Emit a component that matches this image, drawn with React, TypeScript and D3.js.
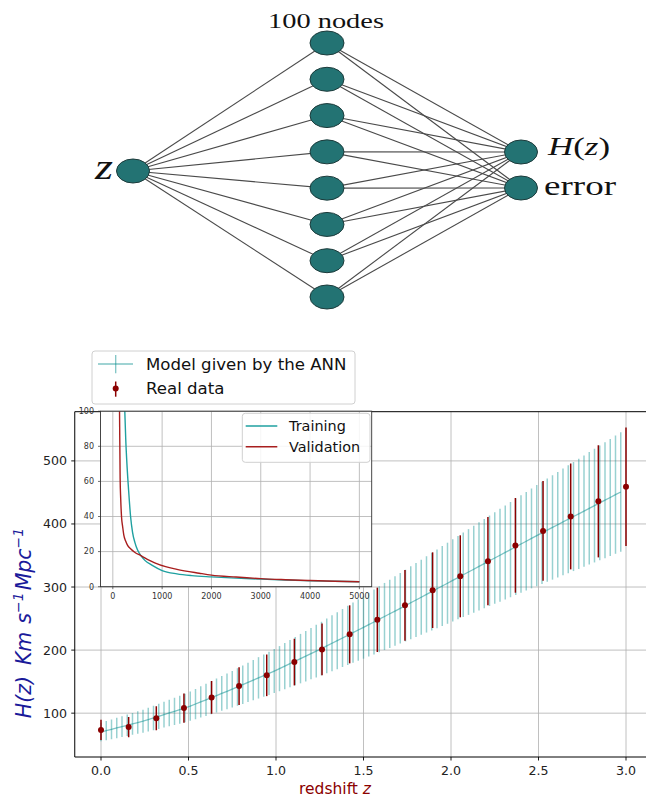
import React from "react";
import * as d3 from "d3";

// ---------------- DATA ----------------
const inputLayer = ["z"];
const hiddenLayer = ["h1", "h2", "h3", "h4", "h5", "h6", "h7", "h8"];
const outputLayer = ["H(z)", "error"];
const hiddenTitle = "100 nodes";

const dataZ = [0, 0.158, 0.316, 0.474, 0.632, 0.789, 0.947, 1.105, 1.263, 1.421, 1.579, 1.737, 1.895, 2.053, 2.211, 2.368, 2.526, 2.684, 2.842, 3.0];
const dataH = [73.5, 78, 92, 108, 125, 143, 160, 181, 201, 225, 248, 271, 295, 317, 341, 366, 389, 412, 436, 459];
const dataErr = [16, 16, 19, 23, 26, 30, 33, 37, 41, 46, 51, 56, 60, 65, 70, 75, 79, 84, 89, 94];

const modelZ = [0, 0.03, 0.06, 0.09, 0.12, 0.15, 0.18, 0.21, 0.24, 0.27, 0.3, 0.33, 0.36, 0.39, 0.42, 0.45, 0.48, 0.51, 0.54, 0.57, 0.6, 0.63, 0.66, 0.69, 0.72, 0.75, 0.78, 0.81, 0.84, 0.87, 0.9, 0.93, 0.96, 0.99, 1.02, 1.05, 1.08, 1.11, 1.14, 1.17, 1.2, 1.23, 1.26, 1.29, 1.32, 1.35, 1.38, 1.41, 1.44, 1.47, 1.5, 1.53, 1.56, 1.59, 1.62, 1.65, 1.68, 1.71, 1.74, 1.77, 1.8, 1.83, 1.86, 1.89, 1.92, 1.95, 1.98, 2.01, 2.04, 2.07, 2.1, 2.13, 2.16, 2.19, 2.22, 2.25, 2.28, 2.31, 2.34, 2.37, 2.4, 2.43, 2.46, 2.49, 2.52, 2.55, 2.58, 2.61, 2.64, 2.67, 2.7, 2.73, 2.76, 2.79, 2.82, 2.85, 2.88, 2.91, 2.94, 2.97];
const modelH = [70.0, 72.2, 74.3, 76.5, 78.6, 80.8, 83.0, 85.1, 87.3, 89.8, 92.4, 95.0, 97.7, 100.3, 103.0, 105.6, 108.2, 111.1, 114.5, 117.8, 121.2, 124.6, 127.9, 131.3, 134.6, 138.0, 141.6, 145.2, 148.8, 152.4, 156.0, 159.6, 163.2, 166.8, 170.6, 174.6, 178.6, 182.5, 186.5, 190.4, 194.4, 198.4, 202.4, 206.6, 210.8, 215.0, 219.2, 223.4, 227.6, 231.8, 236.0, 240.3, 244.6, 249.0, 253.3, 257.6, 261.9, 266.2, 270.6, 275.0, 279.4, 283.8, 288.3, 292.7, 297.2, 301.6, 306.0, 310.5, 314.9, 319.4, 323.8, 328.2, 332.7, 337.1, 341.6, 346.0, 350.4, 354.9, 359.3, 363.8, 368.2, 372.6, 377.1, 381.5, 385.9, 390.2, 394.5, 398.8, 403.2, 407.5, 411.8, 416.1, 420.4, 424.8, 429.1, 433.4, 437.7, 442.0, 446.4, 450.7];
const modelErr = [14.7, 15.2, 15.6, 16.1, 16.5, 17.0, 17.4, 17.9, 18.3, 18.9, 19.4, 20.0, 20.5, 21.1, 21.6, 22.2, 22.7, 23.3, 24.0, 24.7, 25.5, 26.2, 26.9, 27.6, 28.3, 29.0, 29.7, 30.5, 31.2, 32.0, 32.8, 33.5, 34.3, 35.0, 35.8, 36.7, 37.5, 38.3, 39.2, 40.0, 40.8, 41.7, 42.5, 43.4, 44.3, 45.2, 46.0, 46.9, 47.8, 48.7, 49.6, 50.5, 51.4, 52.3, 53.2, 54.1, 55.0, 55.9, 56.8, 57.8, 58.7, 59.6, 60.5, 61.5, 62.4, 63.3, 64.3, 65.2, 66.1, 67.1, 68.0, 68.9, 69.9, 70.8, 71.7, 72.7, 73.6, 74.5, 75.5, 76.4, 77.3, 78.2, 79.2, 80.1, 81.0, 81.9, 82.8, 83.7, 84.7, 85.6, 86.5, 87.4, 88.3, 89.2, 90.1, 91.0, 91.9, 92.8, 93.7, 94.6];

const mainXTicks = [0, 0.5, 1.0, 1.5, 2.0, 2.5, 3.0];
const mainYTicks = [100, 200, 300, 400, 500];

const trainEpoch = [215, 243, 262, 290, 320, 360, 400, 450, 500, 562, 650, 800, 1000, 1300, 1600, 2000, 2500, 3000, 3500, 4000, 4500, 5000];
const trainLoss = [125, 100, 84, 68, 55, 40, 31, 25, 21, 18, 15, 12.2, 9.2, 7.3, 6.3, 5.6, 4.9, 4.3, 3.8, 3.4, 3.1, 2.8];
const valEpoch = [120, 136, 148, 160, 176, 200, 223, 260, 300, 360, 450, 562, 700, 850, 1070, 1300, 1750, 2000, 2500, 3000, 3500, 4000, 4500, 5000];
const valLoss = [130, 100, 62, 50, 40, 34, 29.4, 26, 23.5, 21.6, 19.5, 17.8, 15.6, 13.6, 11.4, 9.9, 7.7, 6.6, 5.5, 4.6, 4.0, 3.5, 3.1, 2.8];

const insetXTicks = [0, 1000, 2000, 3000, 4000, 5000];
const insetYTicks = [0, 20, 40, 60, 80, 100];

// ---------------- STYLE ----------------
const NODE_FILL = "#237373";
const NODE_STROKE = "#1d3b3b";
const EDGE = "#4a4a4a";
const MODEL_COLOR = "#008b8b";
const DATA_COLOR = "#8b0000";
const GRID = "#b0b0b0";
const TRAIN_COLOR = "#1fa0a0";
const VAL_COLOR = "#a81e1e";
const SANS = "DejaVu Sans, sans-serif";
const SERIF = "Liberation Serif, DejaVu Serif, serif";

export default function App() {
  // network layout
  const hy = d3.scalePoint<string>().domain(hiddenLayer).range([43, 297]);
  const oy = d3.scalePoint<string>().domain(outputLayer).range([152, 188]);
  const inX = 133, inY = 171, hX = 327, oX = 521;

  // main plot
  const x = d3.scaleLinear().domain([-0.15, 3.15]).range([74.75, 652.25]);
  const y = d3.scaleLinear().domain([30.5, 578]).range([757, 411.7]);
  const plotL = 74.75, plotR = 652.25, plotT = 411.7, plotB = 757;

  const modelLine = d3.line<number>().x((d, i) => x(modelZ[i])).y((d) => y(d));

  // inset
  const ix = d3.scaleLinear().domain([-250, 5250]).range([100.5, 371.7]);
  const iy = d3.scaleLinear().domain([0, 100]).range([586.7, 411.2]);
  const iL = 100.5, iR = 371.7, iT = 411.2, iB = 586.7;
  const curve = (ep: number[], ls: number[]) =>
    d3.line<number>().x((d, i) => ix(ep[i])).y((d) => iy(d)).curve(d3.curveMonotoneX)(ls) || "";

  return (
    <svg width={646} height={798} style={{ position: "absolute", left: 0, top: 0, background: "#fff" }}>
      <defs>
        <clipPath id="insetClip">
          <rect x={iL} y={iT} width={iR - iL} height={iB - iT} />
        </clipPath>
        <clipPath id="mainClip">
          <rect x={plotL} y={plotT} width={plotR - plotL} height={plotB - plotT} />
        </clipPath>
      </defs>

      {/* ---------- network diagram ---------- */}
      <g>
        {hiddenLayer.map((h) => (
          <line key={"in" + h} x1={inX} y1={inY} x2={hX} y2={hy(h)!} stroke={EDGE} strokeWidth={1.1} />
        ))}
        {hiddenLayer.map((h) =>
          outputLayer.map((o) => (
            <line key={h + o} x1={hX} y1={hy(h)!} x2={oX} y2={oy(o)!} stroke={EDGE} strokeWidth={1.1} />
          ))
        )}
        {inputLayer.map((n) => (
          <ellipse key={n} cx={inX} cy={inY} rx={16.5} ry={12} fill={NODE_FILL} stroke={NODE_STROKE} strokeWidth={1} />
        ))}
        {hiddenLayer.map((h) => (
          <ellipse key={h} cx={hX} cy={hy(h)!} rx={17} ry={12} fill={NODE_FILL} stroke={NODE_STROKE} strokeWidth={1} />
        ))}
        {outputLayer.map((o) => (
          <ellipse key={o} cx={oX} cy={oy(o)!} rx={16.5} ry={12} fill={NODE_FILL} stroke={NODE_STROKE} strokeWidth={1} />
        ))}
        <text x={268} y={28} fontFamily={SERIF} fontSize={21} textLength={116} lengthAdjust="spacingAndGlyphs" fill="#111">
          {hiddenTitle}
        </text>
        <text x={95} y={179} fontFamily={SERIF} fontStyle="italic" fontSize={36} textLength={18} lengthAdjust="spacingAndGlyphs" fill="#111">
          {inputLayer[0]}
        </text>
        <text x={548} y={155} fontFamily={SERIF} fontSize={26} textLength={62} lengthAdjust="spacingAndGlyphs" fill="#111">
          <tspan fontStyle="italic">H</tspan>
          <tspan>(</tspan>
          <tspan fontStyle="italic">z</tspan>
          <tspan>)</tspan>
        </text>
        <text x={544} y={195} fontFamily={SERIF} fontSize={28} textLength={72} lengthAdjust="spacingAndGlyphs" fill="#111">
          {outputLayer[1]}
        </text>
      </g>

      {/* ---------- main plot ---------- */}
      <g>
        {mainXTicks.map((t) => (
          <line key={"gx" + t} x1={x(t)} x2={x(t)} y1={plotT} y2={plotB} stroke={GRID} strokeWidth={0.8} />
        ))}
        {mainYTicks.map((t) => (
          <line key={"gy" + t} x1={plotL} x2={plotR} y1={y(t)} y2={y(t)} stroke={GRID} strokeWidth={0.8} />
        ))}
        <g clipPath="url(#mainClip)">
          {modelH.map((h, i) => (
            <line key={"me" + i} x1={x(modelZ[i])} x2={x(modelZ[i])} y1={y(h - modelErr[i])} y2={y(h + modelErr[i])}
              stroke={MODEL_COLOR} strokeOpacity={0.4} strokeWidth={1.5} />
          ))}
          <path d={modelLine(modelH) || ""} fill="none" stroke={MODEL_COLOR} strokeOpacity={0.5} strokeWidth={1.3} />
          {dataH.map((h, i) => (
            <line key={"de" + i} x1={x(dataZ[i])} x2={x(dataZ[i])} y1={y(h - dataErr[i])} y2={y(h + dataErr[i])}
              stroke={DATA_COLOR} strokeWidth={1.5} />
          ))}
          {dataH.map((h, i) => (
            <circle key={"dp" + i} cx={x(dataZ[i])} cy={y(h)} r={3} fill={DATA_COLOR} />
          ))}
        </g>
        {/* spines */}
        <line x1={plotL} x2={plotL} y1={plotT} y2={plotB} stroke="#000" strokeWidth={1} />
        <line x1={plotL} x2={plotR} y1={plotB} y2={plotB} stroke="#000" strokeWidth={1} />
        <line x1={plotL} x2={plotR} y1={plotT} y2={plotT} stroke="#000" strokeWidth={1} />
        {/* ticks */}
        {mainXTicks.map((t) => (
          <g key={"tx" + t}>
            <line x1={x(t)} x2={x(t)} y1={plotB} y2={plotB + 3.5} stroke="#000" strokeWidth={0.9} />
            <text x={x(t)} y={775} textAnchor="middle" fontFamily={SANS} fontSize={12.6} fill="#222">
              {d3.format(".1f")(t)}
            </text>
          </g>
        ))}
        {mainYTicks.map((t) => (
          <g key={"ty" + t}>
            <line x1={plotL - 3.5} x2={plotL} y1={y(t)} y2={y(t)} stroke="#000" strokeWidth={0.9} />
            <text x={67} y={y(t)} dy="0.36em" textAnchor="end" fontFamily={SANS} fontSize={12.6} fill="#222">
              {t}
            </text>
          </g>
        ))}
        {/* axis labels */}
        <text x={335} y={794} textAnchor="middle" fontFamily={SANS} fontSize={15.5} fill={DATA_COLOR}>
          redshift <tspan fontStyle="italic">z</tspan>
        </text>
        <text transform="translate(31,623) rotate(-90)" textAnchor="middle" fontFamily={SANS} fontStyle="italic" fontSize={20.5}
          fill="#1a1a9a">
          <tspan>H(z)</tspan>
          <tspan dx={11}>Km</tspan>
          <tspan dx={8}>s</tspan>
          <tspan fontSize={14} dy={-8}>−1</tspan>
          <tspan dy={8} dx={2}>Mpc</tspan>
          <tspan fontSize={14} dy={-8}>−1</tspan>
        </text>
      </g>

      {/* ---------- legend main ---------- */}
      <g>
        <rect x={92} y={351} width={263} height={53} rx={3} fill="#fff" fillOpacity={0.85} stroke="#d0d0d0" strokeWidth={1} />
        <line x1={98} x2={133} y1={364} y2={364} stroke={MODEL_COLOR} strokeOpacity={0.5} strokeWidth={1.3} />
        <line x1={115.7} x2={115.7} y1={355} y2={373.3} stroke={MODEL_COLOR} strokeOpacity={0.5} strokeWidth={1.3} />
        <text x={146} y={370} fontFamily={SANS} fontSize={16.6} fill="#111">Model given by the ANN</text>
        <line x1={115.7} x2={115.7} y1={381.5} y2={396.7} stroke={DATA_COLOR} strokeWidth={1.5} />
        <circle cx={115.7} cy={388.5} r={3} fill={DATA_COLOR} />
        <text x={146} y={394} fontFamily={SANS} fontSize={16.6} fill="#111">Real data</text>
      </g>

      {/* ---------- inset ---------- */}
      <g>
        <rect x={iL} y={iT} width={iR - iL} height={iB - iT} fill="#fff" />
        {insetXTicks.map((t) => (
          <line key={"igx" + t} x1={ix(t)} x2={ix(t)} y1={iT} y2={iB} stroke={GRID} strokeWidth={0.8} />
        ))}
        {insetYTicks.map((t) => (
          <line key={"igy" + t} x1={iL} x2={iR} y1={iy(t)} y2={iy(t)} stroke={GRID} strokeWidth={0.8} />
        ))}
        <g clipPath="url(#insetClip)">
          <path d={curve(trainEpoch, trainLoss)} fill="none" stroke={TRAIN_COLOR} strokeWidth={1.4} />
          <path d={curve(valEpoch, valLoss)} fill="none" stroke={VAL_COLOR} strokeWidth={1.4} />
        </g>
        <rect x={iL} y={iT} width={iR - iL} height={iB - iT} fill="none" stroke="#333" strokeWidth={0.9} />
        {insetXTicks.map((t) => (
          <g key={"itx" + t}>
            <line x1={ix(t)} x2={ix(t)} y1={iB} y2={iB + 2.5} stroke="#333" strokeWidth={0.7} />
            <text x={ix(t)} y={598.5} textAnchor="middle" fontFamily={SANS} fontSize={8} fill="#333">{t}</text>
          </g>
        ))}
        {insetYTicks.map((t) => (
          <g key={"ity" + t}>
            <line x1={iL - 2.5} x2={iL} y1={iy(t)} y2={iy(t)} stroke="#333" strokeWidth={0.7} />
            <text x={94} y={iy(t)} dy="0.36em" textAnchor="end" fontFamily={SANS} fontSize={8} fill="#333">{t}</text>
          </g>
        ))}
        <rect x={242.3} y={413.3} width={127.7} height={49} rx={3} fill="#fff" fillOpacity={0.85} stroke="#d0d0d0" strokeWidth={1} />
        <line x1={245.7} x2={277.3} y1={426} y2={426} stroke={TRAIN_COLOR} strokeWidth={1.6} />
        <text x={289} y={431} fontFamily={SANS} fontSize={14.4} fill="#111">Training</text>
        <line x1={245.7} x2={277.3} y1={446.7} y2={446.7} stroke={VAL_COLOR} strokeWidth={1.6} />
        <text x={289} y={452} fontFamily={SANS} fontSize={14.4} fill="#111">Validation</text>
      </g>
    </svg>
  );
}
